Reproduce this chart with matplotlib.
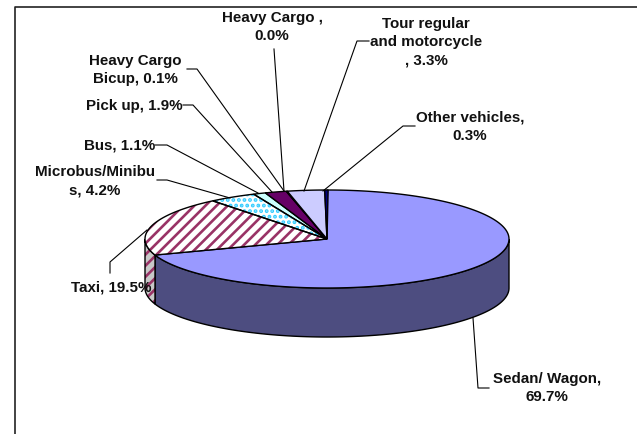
import numpy as np
import matplotlib
matplotlib.use('Agg')
import matplotlib.pyplot as plt
from matplotlib.patches import Polygon

plt.rcParams['font.family'] = ['Liberation Sans', 'DejaVu Sans']
plt.rcParams['hatch.linewidth'] = 1.9

categories = ['Sedan/ Wagon', 'Taxi', 'Microbus/Minibus', 'Bus', 'Pick up',
              'Heavy Cargo Bicup', 'Heavy Cargo', 'Tour regular and motorcycle',
              'Other vehicles']
shares = [69.7, 19.5, 4.2, 1.1, 1.9, 0.1, 0.0, 3.3, 0.3]
colors = ['#9999ff', '#ffffff', '#ffffff', '#ccffff', '#660066',
          '#660066', '#660066', '#ccccff', '#000080']

# pie geometry in picture pixels
cx, cy = 327, 240
rx, ry = 182, 49
depth = 49


def rim(a0, a1):
    t = np.radians(np.linspace(a0, a1, max(int(abs(a1 - a0)) * 2, 2)))
    return cx + rx * np.sin(t), cy - ry * np.cos(t)


def hatched(pts, face, hatch_col, hatch, z):
    ax.add_patch(Polygon(pts, closed=True, facecolor=face, edgecolor='none', zorder=z))
    ax.add_patch(Polygon(pts, closed=True, facecolor='none', edgecolor=hatch_col,
                         hatch=hatch, linewidth=0, zorder=z + 0.1))
    ax.add_patch(Polygon(pts, closed=True, facecolor='none', edgecolor='black',
                         linewidth=1.0, zorder=z + 0.2))


fig = plt.figure(figsize=(6.37, 4.35), dpi=100)
ax = fig.add_axes([0, 0, 1, 1])
ax.set_xlim(0, 637)
ax.set_ylim(435, 0)
ax.axis('off')

# chart frame, only left and top show in the crop
ax.plot([15, 15, 637], [435, 8, 8], color='#222222', lw=1.2, zorder=1)

edges = np.concatenate([[0], np.cumsum(shares)]) * 3.6

# side walls
x, y = rim(90, edges[1])
pts = np.r_[np.c_[x, y], np.c_[x[::-1], y[::-1] + depth]]
ax.add_patch(Polygon(pts, closed=True, facecolor='#4d4d80', edgecolor='black', lw=1.0, zorder=2))
x, y = rim(edges[1], 270)
pts = np.r_[np.c_[x, y], np.c_[x[::-1], y[::-1] + depth]]
hatched(pts, '#c8c8c8', '#993366', '///', 2)

# top slices
for i, name in enumerate(categories):
    x, y = rim(edges[i], edges[i + 1])
    pts = np.r_[[[cx, cy]], np.c_[x, y]]
    if name == 'Taxi':
        hatched(pts, colors[i], '#993366', '///', 3)
    elif name == 'Microbus/Minibus':
        hatched(pts, colors[i], '#33ccff', '...', 3)
    else:
        ax.add_patch(Polygon(pts, closed=True, facecolor=colors[i], edgecolor='black',
                             lw=1.0, zorder=3))

# label text and leader lines, in picture pixels
labels = [
    ('Heavy Cargo ,\n0.0%', 272, 27, [(274, 50), (284, 192)]),
    ('Tour regular\nand motorcycle\n, 3.3%', 426, 42, [(369, 42), (357, 42), (304, 192)]),
    ('Heavy Cargo\nBicup, 0.1%', 135, 70, [(187, 70), (197, 70), (284, 192)]),
    ('Pick up, 1.9%', 134, 106, [(183, 106), (193, 106), (272, 193)]),
    ('Bus, 1.1%', 120, 146, [(155, 146), (167, 146), (258, 194)]),
    ('Microbus/Minibu\ns, 4.2%', 95, 181, [(157, 181), (167, 181), (230, 199)]),
    ('Taxi, 19.5%', 111, 288, [(110, 274), (110, 263), (147, 231)]),
    ('Other vehicles,\n0.3%', 470, 127, [(415, 127), (403, 127), (323, 192)]),
    ('Sedan/ Wagon,\n69.7%', 547, 388, [(489, 389), (478, 389), (473, 319)]),
]
for text, tx, ty, leader in labels:
    ax.plot(*zip(*leader), color='black', lw=0.8, zorder=5)
    ax.text(tx, ty, text, ha='center', va='center', fontsize=10.9, fontweight='bold',
            color='#111111', linespacing=1.4, zorder=6)

fig.savefig('out.png', dpi=100)
